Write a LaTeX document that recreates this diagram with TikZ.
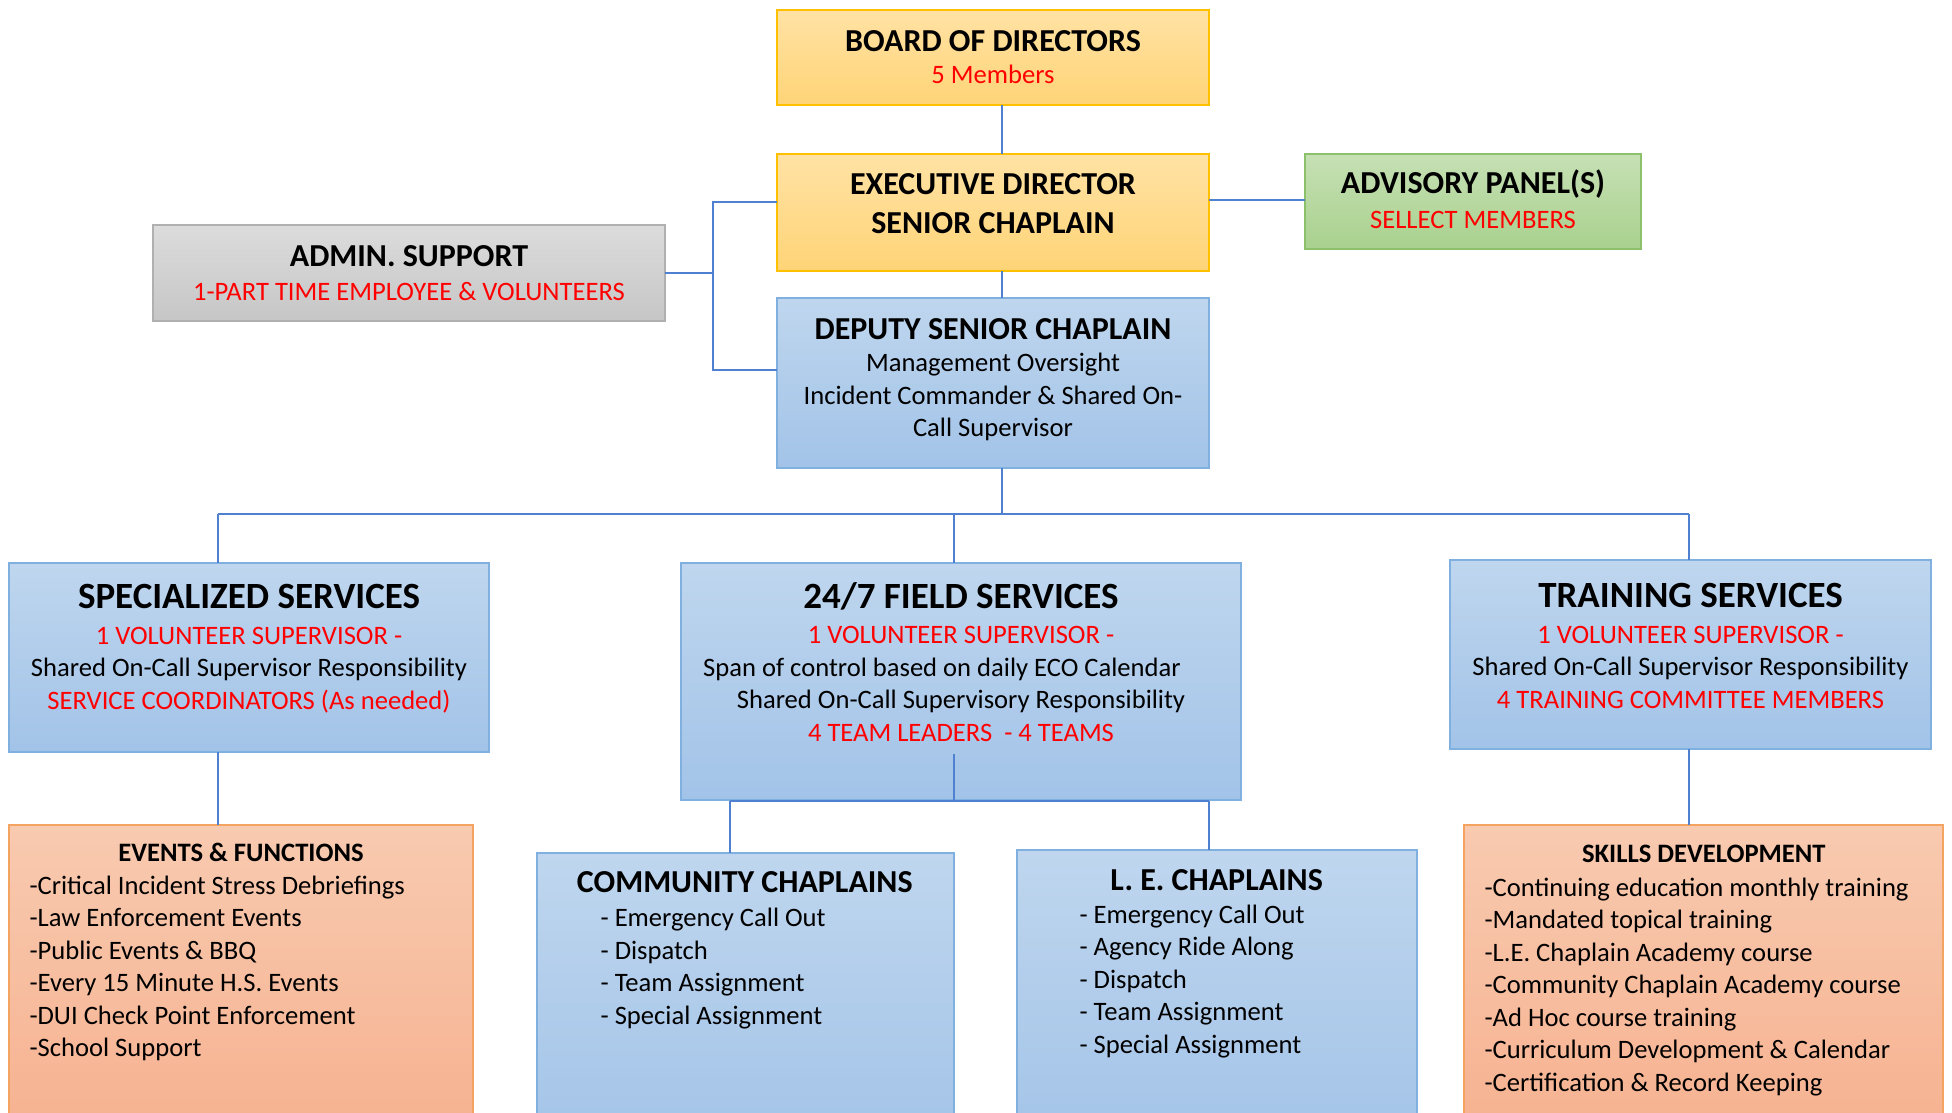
\documentclass[tikz,border=0pt]{standalone}
\usepackage{fontspec}
\setmainfont{Carlito}
\definecolor{goldT}{HTML}{FFE2A4}
\definecolor{goldD}{HTML}{FFD477}
\definecolor{goldB}{HTML}{FFC000}
\definecolor{blueT}{HTML}{BFD6EE}
\definecolor{blueD}{HTML}{A2C3E8}
\definecolor{blueB}{HTML}{7FB0E0}
\definecolor{greenT}{HTML}{C6E0B4}
\definecolor{greenD}{HTML}{A9D18E}
\definecolor{greenB}{HTML}{8CC06A}
\definecolor{grayT}{HTML}{DCDCDC}
\definecolor{grayD}{HTML}{C6C6C6}
\definecolor{grayB}{HTML}{B0B0B0}
\definecolor{orT}{HTML}{F8CAB0}
\definecolor{orD}{HTML}{F6B08E}
\definecolor{orB}{HTML}{F4A460}
\definecolor{connC}{HTML}{4F81D0}
\definecolor{redT}{HTML}{FF0000}
\begin{document}
\begin{tikzpicture}[x=1pt,y=-1pt,
  box/.style={rectangle, inner sep=0pt, outer sep=0pt, line width=1.8pt},
  goldbox/.style={box, draw=goldB, top color=goldT, bottom color=goldD},
  bluebox/.style={box, draw=blueB, top color=blueT, bottom color=blueD},
  greenbox/.style={box, draw=greenB, top color=greenT, bottom color=greenD},
  graybox/.style={box, draw=grayB, top color=grayT, bottom color=grayD},
  orbox/.style={box, draw=orB, top color=orT, bottom color=orD},
  conn/.style={draw=connC, line width=1.5pt},
  ttl/.style={inner sep=0pt, anchor=base, align=center, font=\fontsize{32}{38.3}\selectfont\bfseries},
  bigttl/.style={inner sep=0pt, anchor=base, font=\fontsize{37}{44}\selectfont\bfseries},
  smttl/.style={inner sep=0pt, anchor=base, font=\fontsize{26.6}{32.5}\selectfont\bfseries},
  body/.style={inner sep=0pt, anchor=base, align=center, font=\fontsize{26.6}{32.5}\selectfont},
  lst/.style={inner sep=0pt, anchor=base west, align=left, font=\fontsize{26.6}{32.5}\selectfont},
  redtx/.style={text=redT}
]
\useasboundingbox (0,0) rectangle (1952,1113);
\clip (0,0) rectangle (1952,1113);
\fill[white] (0,0) rectangle (1952,1113);

% boxes
\node[goldbox, minimum width=432pt, minimum height=95pt] (board) at (993,57.5) {};
\node[goldbox, minimum width=432pt, minimum height=117pt] (exec) at (993,212.5) {};
\node[greenbox, minimum width=336pt, minimum height=95pt] (adv) at (1473,201.5) {};
\node[graybox, minimum width=512pt, minimum height=96pt] (admin) at (409,273) {};
\node[bluebox, minimum width=432pt, minimum height=170pt] (deputy) at (993,383) {};
\node[bluebox, minimum width=480pt, minimum height=189pt] (spec) at (249,657.5) {};
\node[bluebox, minimum width=560pt, minimum height=237pt] (field) at (961,681.5) {};
\node[bluebox, minimum width=481pt, minimum height=189pt] (train) at (1690.5,654.5) {};
\node[orbox, minimum width=464pt, minimum height=330pt] (events) at (241,990) {};
\node[bluebox, minimum width=417pt, minimum height=300pt] (comm) at (745.5,1003) {};
\node[bluebox, minimum width=400pt, minimum height=300pt] (le) at (1217,1000) {};
\node[orbox, minimum width=479pt, minimum height=330pt] (skills) at (1703.5,990) {};

% connectors
\coordinate (c1) at (1002,0);
\coordinate (lb) at (713,273);
\coordinate (eL) at (777,202);
\coordinate (dL) at (777,370);
\coordinate (aR) at (0,200);
\coordinate (dS) at (218,514);
\coordinate (dF) at (954,514);
\coordinate (dT) at (1689,514);
\coordinate (fI) at (954,754);
\coordinate (b2L) at (730,801);
\coordinate (b2R) at (1209,801);
\draw[conn] (board.south -| c1) -- (exec.north -| c1);
\draw[conn] (exec.south -| c1) -- (deputy.north -| c1);
\draw[conn] (eL) -| (lb) |- (dL);
\draw[conn] (admin.east) -- (lb);
\draw[conn] (aR -| exec.east) -- (aR -| adv.west);
\draw[conn] (deputy.south -| c1) -- (dS -| c1);
\draw[conn] (dS) -- (dT);
\draw[conn] (dS) -- (dS |- spec.north);
\draw[conn] (dF) -- (dF |- field.north);
\draw[conn] (dT) -- (dT |- train.north);
\draw[conn] (dS |- spec.south) -- (dS |- events.north);
\draw[conn] (dT |- train.south) -- (dT |- skills.north);
\draw[conn] (fI) -- (fI |- field.south);
\draw[conn] (b2L) -- (b2R);
\draw[conn] (b2L) -- (b2L |- comm.north);
\draw[conn] (b2R) -- (b2R |- le.north);

% texts (multi-line nodes are anchored at the baseline of their last line)
\node[ttl] (boardT) at (993,51.7) {BOARD OF DIRECTORS};
\node[body, redtx] (boardS) at (993,83.3) {5 Members};
\node[ttl] (execT) at (993,233) {EXECUTIVE DIRECTOR\\SENIOR CHAPLAIN};
\node[ttl] (advT) at (1473,193.3) {ADVISORY PANEL(S)};
\node[body, redtx] (advS) at (1473,228.3) {SELLECT MEMBERS};
\node[ttl] (admT) at (409,266.7) {ADMIN. SUPPORT};
\node[body, redtx] (admS) at (409,300) {1-PART TIME EMPLOYEE \& VOLUNTEERS};
\node[ttl] (depT) at (993,339) {DEPUTY SENIOR CHAPLAIN};
\node[body] (depS) at (993,436.7) {Management Oversight\\Incident Commander \& Shared On-\\Call Supervisor};

\node[bigttl] (specT) at (249,608.7) {SPECIALIZED SERVICES};
\node[body] (specS) at (249,709) {\textcolor{redT}{1 VOLUNTEER SUPERVISOR -}\\Shared On-Call Supervisor Responsibility\\\textcolor{redT}{SERVICE COORDINATORS (As needed)}};

\node[bigttl] (fieldT) at (961,608.3) {24/7 FIELD SERVICES};
\node[body] (fieldS) at (961,741) {\textcolor{redT}{1 VOLUNTEER SUPERVISOR -}\\Span of control based on daily ECO Calendar\hspace*{38pt}\mbox{}\\Shared On-Call Supervisory Responsibility\\\textcolor{redT}{4 TEAM LEADERS\ \ - 4 TEAMS}};

\node[bigttl] (trainT) at (1690.5,607.6) {TRAINING SERVICES};
\node[body] (trainS) at (1690.5,708) {\textcolor{redT}{1 VOLUNTEER SUPERVISOR -}\\Shared On-Call Supervisor Responsibility\\\textcolor{redT}{4 TRAINING COMMITTEE MEMBERS}};

\node[smttl] (evT) at (241,861.6) {EVENTS \& FUNCTIONS};
\node[lst] (evL) at (29.3,1056.5) {-Critical Incident Stress Debriefings\\-Law Enforcement Events\\-Public Events \& BBQ\\-Every 15 Minute H.S. Events\\-DUI Check Point Enforcement\\-School Support};

\node[ttl] (coT) at (744.8,892.7) {COMMUNITY CHAPLAINS};
\node[lst] (coL) at (600.4,1024.3) {- Emergency Call Out\\- Dispatch\\- Team Assignment\\- Special Assignment};

\node[ttl] (leT) at (1216.6,890) {L. E. CHAPLAINS};
\node[lst] (leL) at (1079.3,1053.3) {- Emergency Call Out\\- Agency Ride Along\\- Dispatch\\- Team Assignment\\- Special Assignment};

\node[smttl] (skT) at (1703.8,862.4) {SKILLS DEVELOPMENT};
\node[lst] (skL) at (1484.3,1091) {-Continuing education monthly training\\-Mandated topical training\\-L.E. Chaplain Academy course\\-Community Chaplain Academy course\\-Ad Hoc course training\\-Curriculum Development \& Calendar\\-Certification \& Record Keeping};
\end{tikzpicture}
\end{document}
